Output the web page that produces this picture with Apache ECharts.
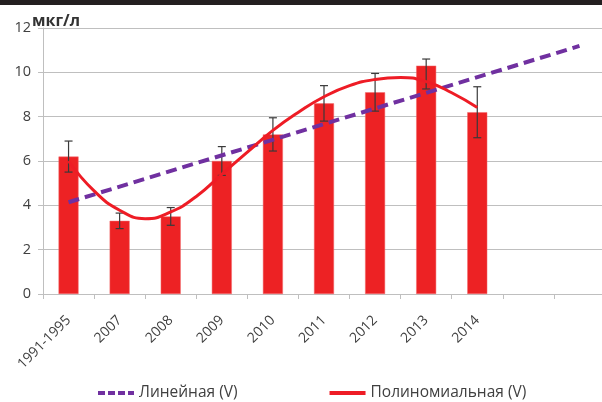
<!DOCTYPE html>
<html>
<head>
<meta charset="utf-8">
<script src="https://cdn.jsdelivr.net/npm/echarts@6.0.0/dist/echarts.min.js"></script>
<style>
  html, body { margin: 0; padding: 0; background: #fff; }
  #chart { width: 602px; height: 402px; }
</style>
</head>
<body>
<div id="chart"></div>
<script>
  // categories (two empty slots at the right, where only the linear trend runs)
  const categories = ['1991-1995', '2007', '2008', '2009', '2010', '2011', '2012', '2013', '2014', ' ', '  '];
  const values = [6.2, 3.3, 3.5, 6.0, 7.2, 8.6, 9.1, 10.3, 8.2];
  const errLow = [5.5, 2.95, 3.1, 5.35, 6.45, 7.8, 8.25, 9.25, 7.05];
  const errHigh = [6.9, 3.65, 3.9, 6.65, 7.95, 9.4, 9.95, 10.6, 9.35];
  const linearTrend = [4.14, null, null, null, null, null, null, null, null, null, 11.19];
  // polynomial trend every half category: [position, value]
  const polyTrend = [
    [0, 6.0], [0.5, 4.65], [1, 3.78], [1.5, 3.4], [2, 3.7], [2.5, 4.4], [3, 5.4],
    [3.5, 6.4], [4, 7.38], [4.5, 8.2], [5, 8.9], [5.5, 9.4], [6, 9.68], [6.5, 9.77],
    [7, 9.58], [7.5, 9.08], [8, 8.41]
  ];
  const yTicks = [0, 2, 4, 6, 8, 10, 12];

  const axisGray = '#bfbfbf';
  const textColor = '#404040';
  const font = "'Open Sans', 'Noto Sans', sans-serif";

  const chart = echarts.init(document.getElementById('chart'));

  const errorData = values.map((v, i) => [i, errLow[i], errHigh[i]]);

  chart.setOption({
    animation: false,
    backgroundColor: '#fff',
    textStyle: { fontFamily: font },
    title: {
      text: 'мкг/л',
      left: 27,
      top: 8,
      textStyle: { fontSize: 16, fontWeight: 'bold', color: '#333', fontFamily: font }
    },
    graphic: [
      { type: 'rect', shape: { x: 0, y: 0, width: 602, height: 5 }, style: { fill: '#231f20' } }
    ],
    grid: { left: 43, right: -3, top: 28, bottom: 108, outerBoundsMode: 'none' },
    legend: {
      data: [
        { name: 'Линейная (V)', lineStyle: { type: [7, 3], width: 4 } },
        { name: 'Полиномиальная (V)', lineStyle: { width: 4 } }
      ],
      top: 385,
      left: 96,
      padding: 0,
      itemGap: 90,
      itemWidth: 36,
      itemHeight: 4,
      itemStyle: { opacity: 0 },
      textStyle: { fontSize: 15.5, color: textColor, fontFamily: font }
    },
    xAxis: [
      {
        type: 'category',
        data: categories,
        boundaryGap: true,
        axisLine: { lineStyle: { color: axisGray, width: 1 } },
        axisTick: { show: true, length: 5, lineStyle: { color: axisGray } },
        axisLabel: { rotate: 45, fontSize: 14, color: textColor, interval: 0, margin: 24 },
        splitLine: { show: false }
      },
      {
        type: 'value',
        min: -0.5,
        max: categories.length - 0.5,
        show: false,
        splitLine: { show: false },
        axisLine: { show: false, onZero: false },
        axisTick: { show: false },
        axisLabel: { show: false }
      }
    ],
    yAxis: {
      type: 'value',
      min: yTicks[0],
      max: yTicks[yTicks.length - 1],
      interval: 2,
      axisLine: { show: true, onZero: false, lineStyle: { color: axisGray, width: 1 } },
      axisTick: { show: true, length: 5, lineStyle: { color: axisGray } },
      axisLabel: { fontSize: 14.5, color: textColor, margin: 12 },
      splitLine: { lineStyle: { color: axisGray, width: 1 } }
    },
    series: [
      {
        name: 'V',
        type: 'bar',
        data: values,
        barWidth: 20,
        itemStyle: { color: '#ed2224', borderColor: '#f26b6d', borderWidth: 0.5 },
        z: 2
      },
      {
        name: 'err',
        type: 'custom',
        data: errorData,
        encode: { x: 0, y: [1, 2] },
        z: 3,
        renderItem: function (params, api) {
          const x = api.value(0);
          const lo = api.coord([x, api.value(1)]);
          const hi = api.coord([x, api.value(2)]);
          const cap = 4;
          const style = { stroke: '#3a3a3a', lineWidth: 1.2 };
          return {
            type: 'group',
            children: [
              { type: 'line', shape: { x1: lo[0], y1: lo[1], x2: hi[0], y2: hi[1] }, style },
              { type: 'line', shape: { x1: hi[0] - cap, y1: hi[1], x2: hi[0] + cap, y2: hi[1] }, style },
              { type: 'line', shape: { x1: lo[0] - cap, y1: lo[1], x2: lo[0] + cap, y2: lo[1] }, style }
            ]
          };
        }
      },
      {
        name: 'Линейная (V)',
        type: 'line',
        data: linearTrend,
        connectNulls: true,
        symbol: 'none',
        z: 4,
        lineStyle: { color: '#7030a0', width: 4, type: [11, 6] },
        itemStyle: { color: '#7030a0' }
      },
      {
        name: 'Полиномиальная (V)',
        type: 'line',
        xAxisIndex: 1,
        data: polyTrend,
        smooth: true,
        symbol: 'none',
        z: 5,
        lineStyle: { color: '#ee1c25', width: 3 },
        itemStyle: { color: '#ee1c25' }
      }
    ]
  });
</script>
</body>
</html>
